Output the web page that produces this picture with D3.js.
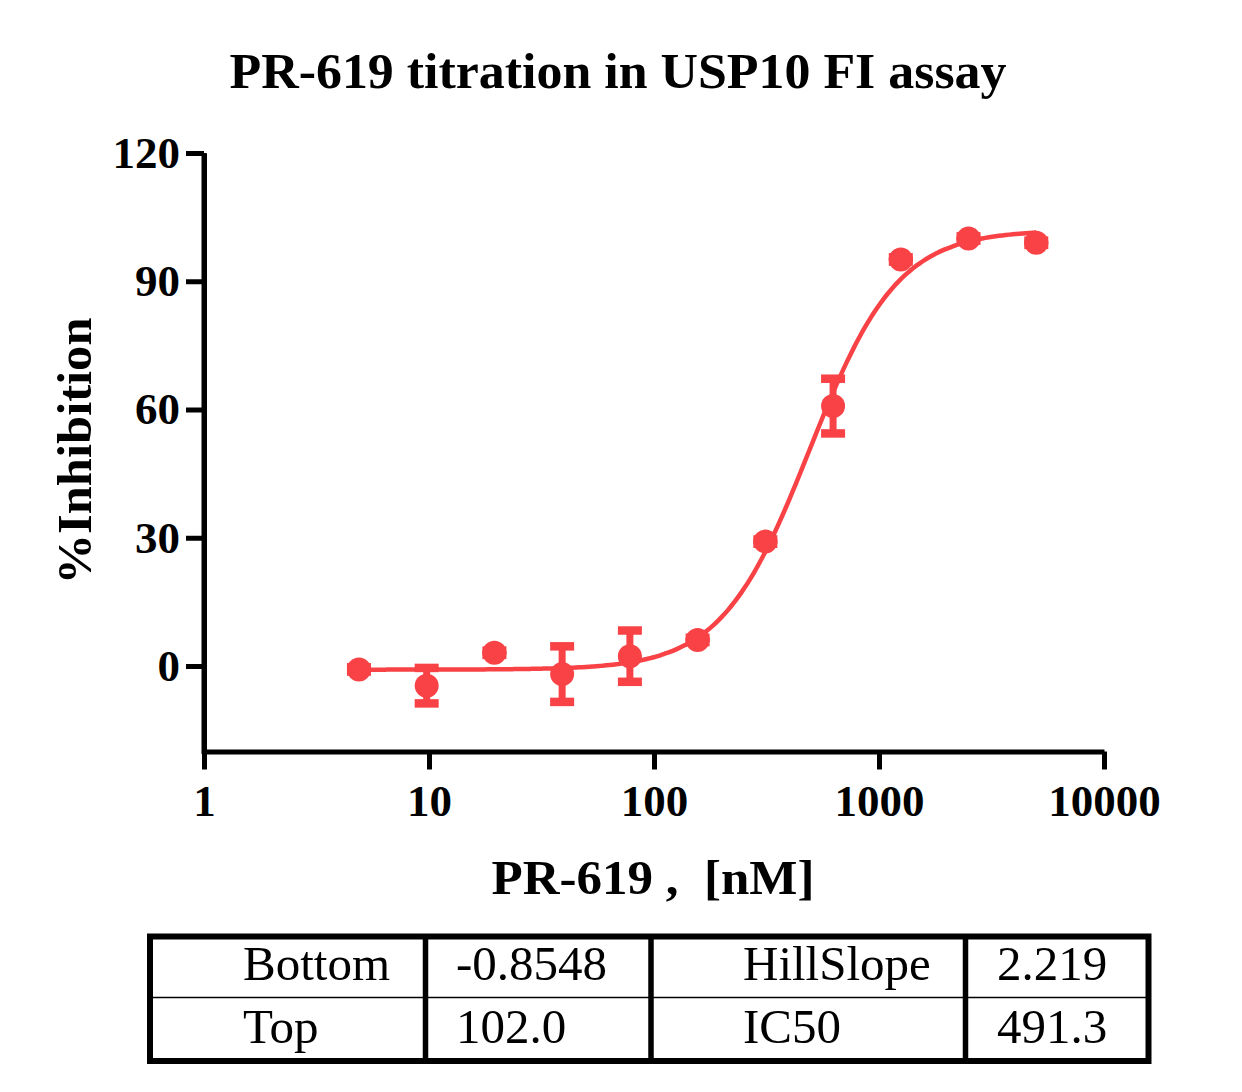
<!DOCTYPE html>
<html><head><meta charset="utf-8">
<script src="https://cdn.jsdelivr.net/npm/d3@7/dist/d3.min.js"></script>
<style>
body{margin:0;background:#fff;}
text{font-family:"Liberation Serif","Times New Roman",serif;}
</style></head>
<body><svg id="chart" width="1242" height="1092"></svg>
<script>
// ---- data ----
const concentrations = [4.883, 9.766, 19.53, 39.06, 78.13, 156.25, 312.5, 625, 1250, 2500, 5000];
const inhibition     = [-0.8, -4.6, 3.1, -1.9, 2.3, 6.1, 29.1, 60.8, 95.1, 100.0, 99.0];
const errorSD        = [0.5, 4.15, 0.5, 6.5, 6.0, 0.5, 0.5, 6.4, 0.5, 0.5, 0.5];
const yTicks = [0, 30, 60, 90, 120];
const xTicks = [1, 10, 100, 1000, 10000];
const paramNames  = ["Bottom", "Top", "HillSlope", "IC50"];
const paramValues = ["-0.8548", "102.0", "2.219", "491.3"];
const fitBottom = -0.8548, fitTop = 102.0, fitHill = 2.219, fitIC50 = 491.3;

const red = "#f84246";
const svg = d3.select("#chart");

const x = d3.scaleLog().domain([1, 10000]).range([204, 1104]);
const y = d3.scaleLinear().domain([-20, 120]).range([751.5, 153]);

// title
svg.append("text").attr("x", 618).attr("y", 88).attr("text-anchor", "middle")
  .attr("font-size", 50).attr("font-weight", "bold")
  .attr("textLength", 777).attr("lengthAdjust", "spacingAndGlyphs")
  .text("PR-619 titration in USP10 FI assay");

// axes
const yAxis = svg.append("g").attr("transform", "translate(204,0)")
  .call(d3.axisLeft(y).tickValues(yTicks).tickSize(18).tickSizeOuter(0).tickPadding(6));
const xAxis = svg.append("g").attr("transform", "translate(0,751.5)")
  .call(d3.axisBottom(x).tickValues(xTicks).tickFormat(d3.format("d")).tickSize(18).tickSizeOuter(0).tickPadding(15));
[yAxis, xAxis].forEach(g => {
  g.select(".domain").attr("stroke", "#000").attr("stroke-width", 5);
  g.selectAll(".tick line").attr("stroke", "#000").attr("stroke-width", 5);
  g.selectAll(".tick text").attr("font-size", 45).attr("font-weight", "bold").attr("fill", "#000")
    .attr("font-family", "'Liberation Serif', serif");
});
xAxis.selectAll(".tick text").attr("dy", "0.71em");
// close the corner
svg.append("line").attr("x1", 204).attr("x2", 204).attr("y1", 153).attr("y2", 754)
  .attr("stroke", "#000").attr("stroke-width", 5);

// axis labels
svg.append("text").attr("transform", "translate(91,451) rotate(-90)").attr("text-anchor", "middle")
  .attr("font-size", 48).attr("font-weight", "bold")
  .attr("textLength", 267).attr("lengthAdjust", "spacingAndGlyphs").text("%Inhibition");
svg.append("text").attr("x", 653).attr("y", 894).attr("text-anchor", "middle")
  .attr("font-size", 49).attr("font-weight", "bold").attr("xml:space", "preserve")
  .attr("textLength", 323).attr("lengthAdjust", "spacingAndGlyphs").text("PR-619 ,  [nM]");

// fitted curve (4PL from the displayed parameters)
const lx0 = Math.log10(concentrations[0]), lx1 = Math.log10(concentrations[concentrations.length - 1]);
const curvePts = d3.range(0, 201).map(i => {
  const c = Math.pow(10, lx0 + (lx1 - lx0) * i / 200);
  return [c, fitBottom + (fitTop - fitBottom) / (1 + Math.pow(fitIC50 / c, fitHill))];
});
svg.append("path").datum(curvePts)
  .attr("d", d3.line().x(d => x(d[0])).y(d => y(d[1])).curve(d3.curveBasis))
  .attr("fill", "none").attr("stroke", red).attr("stroke-width", 4.5);

// error bars
const pts = concentrations.map((c, i) => ({c, v: inhibition[i], e: errorSD[i]}));
const eb = svg.append("g").selectAll("g").data(pts).enter().append("g");
eb.append("line").attr("x1", d => x(d.c)).attr("x2", d => x(d.c))
  .attr("y1", d => y(d.v + d.e)).attr("y2", d => y(d.v - d.e))
  .attr("stroke", red).attr("stroke-width", 7);
eb.selectAll(".cap").data(d => [[d.c, d.v + d.e], [d.c, d.v - d.e]]).enter().append("line")
  .attr("x1", d => x(d[0]) - 12).attr("x2", d => x(d[0]) + 12)
  .attr("y1", d => y(d[1])).attr("y2", d => y(d[1]))
  .attr("stroke", red).attr("stroke-width", 8.5);

// points
svg.append("g").selectAll("circle").data(pts).enter().append("circle")
  .attr("cx", d => x(d.c)).attr("cy", d => y(d.v)).attr("r", 12).attr("fill", red);

// parameter table
const colX = [150, 425.5, 651, 965.5, 1148.5];
const rowY = [936.5, 997.5, 1061];
const tbl = svg.append("g");
tbl.append("rect").attr("x", colX[0]).attr("y", rowY[0]).attr("width", colX[4] - colX[0])
  .attr("height", rowY[2] - rowY[0]).attr("fill", "none").attr("stroke", "#000").attr("stroke-width", 6);
tbl.selectAll(".vl").data(colX.slice(1, 4)).enter().append("line")
  .attr("x1", d => d).attr("x2", d => d).attr("y1", rowY[0]).attr("y2", rowY[2])
  .attr("stroke", "#000").attr("stroke-width", 5.5);
tbl.append("line").attr("x1", colX[0]).attr("x2", colX[4]).attr("y1", rowY[1]).attr("y2", rowY[1])
  .attr("stroke", "#000").attr("stroke-width", 1.5);
const nameX = [243, 743], valX = [456, 997], baseY = [980, 1043];
paramNames.forEach((n, i) => {
  const col = Math.floor(i / 2), row = i % 2;
  tbl.append("text").attr("x", nameX[col]).attr("y", baseY[row]).attr("font-size", 49).text(n);
  tbl.append("text").attr("x", valX[col]).attr("y", baseY[row]).attr("font-size", 49).text(paramValues[i]);
});
</script></body></html>
